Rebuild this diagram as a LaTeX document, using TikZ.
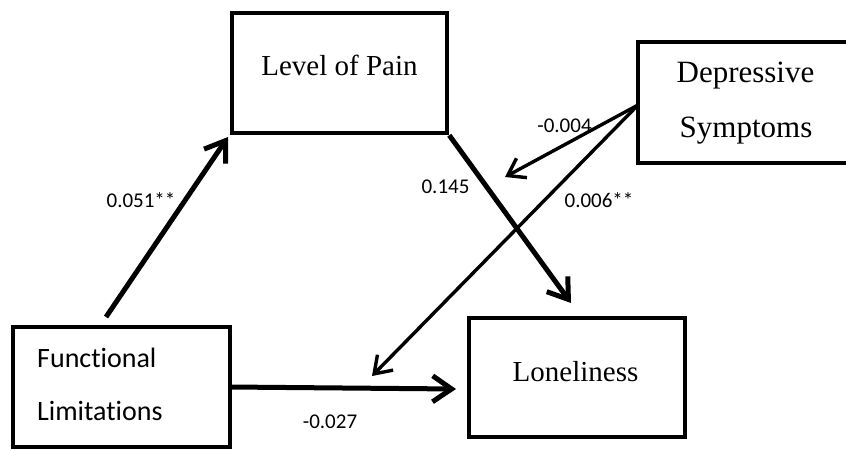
\documentclass[tikz,border=0pt]{standalone}
\usepackage{fontspec}
\setmainfont{Liberation Serif}
\newfontfamily\calibrifont[Ligatures=NoCommon]{Carlito}
\usetikzlibrary{arrows.meta}

\begin{document}
\begin{tikzpicture}[x=1pt,y=-1pt,
  box/.style={draw, line width=4.5pt, inner sep=0pt, minimum width=#1},
  boxtext/.style={anchor=base, inner sep=0pt, font=\fontsize{29}{35}\selectfont},
  sanstext/.style={anchor=base west, inner sep=0pt, font=\calibrifont\fontsize{28}{34}\selectfont},
  coef/.style={anchor=base, inner sep=0pt, font=\calibrifont\fontsize{21}{25}\selectfont},
  thickarrow/.style={line width=5pt, -{Straight Barb[length=19pt,width=26pt]}},
  thinarrow/.style={line width=3.4pt, -{Straight Barb[length=16pt,width=22pt]}}]

  \clip (0,0) rectangle (846,450);
  \fill[white] (0,0) rectangle (846,450);

  % boxes
  \node[box=215pt, minimum height=120pt] (pain) at (339.5,73) {};
  \node[box=232pt, minimum height=121pt] (dep) at (754,102.5) {};
  \node[box=216pt, minimum height=119pt] (lone) at (577,377.5) {};
  \node[box=217pt, minimum height=120pt] (func) at (121.5,387) {};

  % box captions
  \node[boxtext] (paintxt) at (339.5,75) {Level of Pain};
  \node[boxtext, font=\fontsize{31}{37}\selectfont] (deptxt1) at (745.5,82) {Depressive};
  \node[boxtext, font=\fontsize{31}{37}\selectfont] (deptxt2) at (746,137) {Symptoms};
  \node[boxtext] (lonetxt) at (575.5,381) {Loneliness};
  \node[sanstext] (functxt1) at (37,367) {Functional};
  \node[sanstext] (functxt2) at (37,420) {Limitations};

  % connector end points
  \coordinate (funcout) at (106,317);
  \coordinate (paintip) at (228,137);
  \coordinate (lonetip) at (571,303);
  \coordinate (depout) at (638,105);
  \coordinate (midtip) at (505,177);
  \coordinate (pathtip) at (372,376);
  \coordinate (funcright) at (230,387);
  \coordinate (lonein) at (456,389);

  % paths
  \draw[thickarrow] (funcout) -- (paintip);
  \draw[thickarrow] (pain.south east) -- (lonetip);
  \draw[thickarrow] (funcright) -- (lonein);
  \draw[thinarrow] (depout) -- (midtip);
  \draw[thinarrow] (depout) -- (pathtip);

  % coefficients
  \node[coef] (c1) at (141,207) {0.051**};
  \node[coef] (c2) at (445.5,193) {0.145};
  \node[coef] (c3) at (564.5,132) {-0.004};
  \node[coef] (c4) at (599,207) {0.006**};
  \node[coef] (c5) at (330,428) {-0.027};
\end{tikzpicture}
\end{document}
